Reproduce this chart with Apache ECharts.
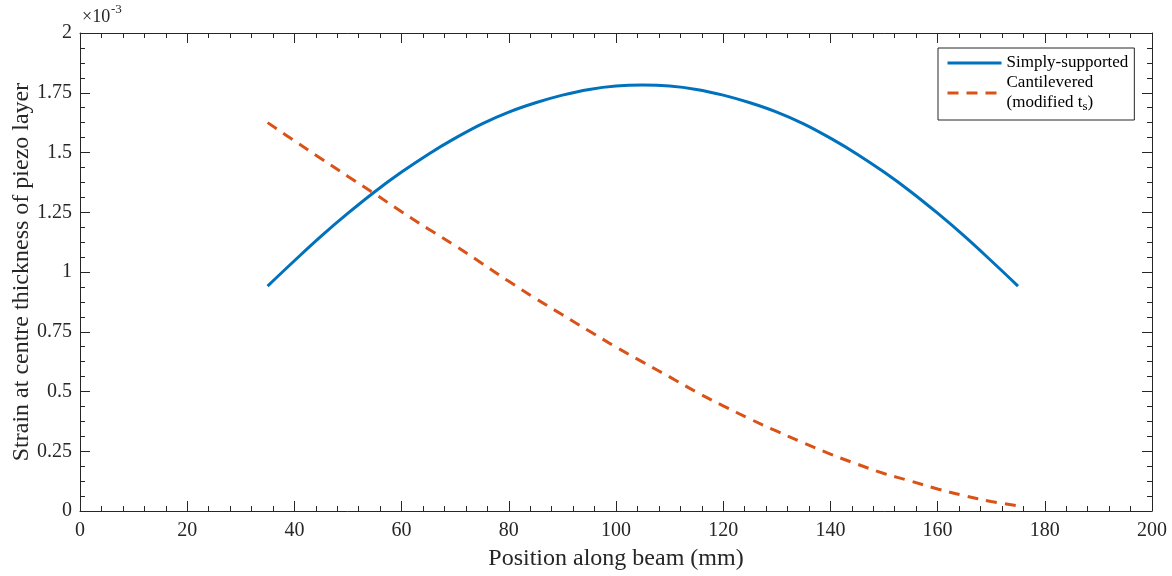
<!DOCTYPE html>
<html>
<head>
<meta charset="utf-8">
<script src="https://cdn.jsdelivr.net/npm/echarts@6/dist/echarts.min.js"></script>
<style>html,body{margin:0;padding:0;background:#fff}#c{width:1172px;height:576px}</style>
</head>
<body>
<div id="c"></div>
<script>
// Position along beam (mm)
var positions = [35,40,45,50,55,60,65,70,75,80,85,90,95,100,105,110,115,120,125,130,135,140,145,150,155,160,165,170,175];
// Strain (x 10^-3), simply-supported
var simplySupported = [0.941,1.047,1.150,1.246,1.336,1.418,1.493,1.560,1.620,1.669,1.708,1.740,1.764,1.778,1.782,1.778,1.764,1.740,1.708,1.669,1.620,1.560,1.493,1.418,1.336,1.246,1.150,1.047,0.941];
// Strain (x 10^-3), cantilevered (modified t_s)
var cantilevered = [1.625,1.549,1.474,1.400,1.327,1.252,1.180,1.110,1.036,0.961,0.889,0.821,0.753,0.686,0.623,0.561,0.498,0.440,0.385,0.334,0.285,0.238,0.196,0.157,0.125,0.092,0.064,0.040,0.022];
var xTicks = {min:0, max:200, interval:20};
var yTicks = {min:0, max:2, interval:0.25};
var seriesNames = ['Simply-supported', 'Cantilevered\n(modified t_s)'];

var axisColor = '#262626';
var font = 'Liberation Serif';
function pairs(xs, ys){ return xs.map(function(x,i){ return [x, ys[i]]; }); }

var chart = echarts.init(document.getElementById('c'), null, {renderer:'canvas'});
var baseX = {
  type:'value', min:xTicks.min, max:xTicks.max, interval:xTicks.interval,
  axisLine:{show:true, onZero:false, lineStyle:{color:axisColor, width:1}},
  axisTick:{show:true, inside:true, length:10, lineStyle:{color:axisColor}},
  minorTick:{show:true, splitNumber:5, length:5, lineStyle:{color:axisColor}},
  splitLine:{show:false}
};
var baseY = {
  type:'value', min:yTicks.min, max:yTicks.max, interval:yTicks.interval,
  axisLine:{show:true, onZero:false, lineStyle:{color:axisColor, width:1}},
  axisTick:{show:true, inside:true, length:10, lineStyle:{color:axisColor}},
  minorTick:{show:true, splitNumber:4, length:5, lineStyle:{color:axisColor}},
  splitLine:{show:false}
};
chart.setOption({
  animation:false,
  backgroundColor:'#ffffff',
  grid:{left:80, right:20, top:33, bottom:65, containLabel:false, outerBoundsMode:'none'},
  xAxis:[
    Object.assign({}, baseX, {position:'bottom',
      name:'Position along beam (mm)', nameLocation:'middle', nameGap:36, nameMoveOverlap:false,
      nameTextStyle:{fontFamily:font, fontSize:24, color:axisColor},
      axisLabel:{show:true, margin:10, fontFamily:font, fontSize:20, color:axisColor}}),
    Object.assign({}, baseX, {position:'top', axisLabel:{show:false}})
  ],
  yAxis:[
    Object.assign({}, baseY, {position:'left',
      name:'Strain at centre thickness of piezo layer', nameLocation:'middle', nameGap:46, nameMoveOverlap:false,
      nameTextStyle:{fontFamily:font, fontSize:24, color:axisColor},
      axisLabel:{show:true, margin:8, fontFamily:font, fontSize:20, color:axisColor}}),
    Object.assign({}, baseY, {position:'right', axisLabel:{show:false}})
  ],
  legend:{
    orient:'vertical', left:938, top:48,
    padding:[5,6,7,8], itemGap:0, itemWidth:54, itemHeight:14,
    backgroundColor:'#ffffff', borderColor:axisColor, borderWidth:1,
    itemStyle:{opacity:0},
    lineStyle:{width:3},
    data:seriesNames,
    formatter:function(n){ return n.replace('t_s', 't{sub|s}'); },
    textStyle:{fontFamily:font, fontSize:17, color:'#000', lineHeight:20,
      rich:{sub:{fontFamily:font, fontSize:13, verticalAlign:'bottom', padding:[9,0,0,0], color:'#000'}}}
  },
  series:[
    {name:seriesNames[0], type:'line', xAxisIndex:0, yAxisIndex:0, data:pairs(positions, simplySupported),
     symbol:'none', smooth:0.4, lineStyle:{color:'#0072BD', width:3}, itemStyle:{color:'#0072BD'}},
    {name:seriesNames[1], type:'line', xAxisIndex:0, yAxisIndex:0, data:pairs(positions, cantilevered),
     symbol:'none', smooth:0.4, lineStyle:{color:'#D95319', width:3, type:[11,8]}, itemStyle:{color:'#D95319'}}
  ],
  graphic:[
    {type:'text', left:82, top:8, style:{text:'×10', fontFamily:font, fontSize:18, fill:axisColor}},
    {type:'text', left:111, top:3, style:{text:'-3', fontFamily:font, fontSize:13, fill:axisColor}}
  ]
});
</script>
</body>
</html>
